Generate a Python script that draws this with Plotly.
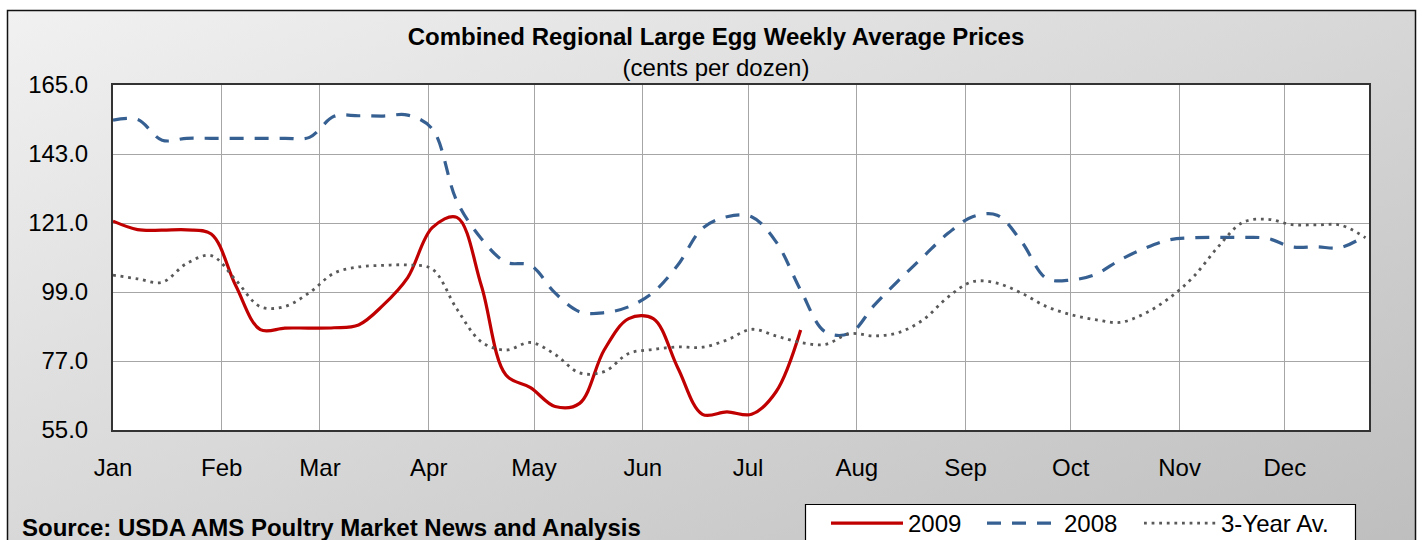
import base64
import pandas as pd
import plotly.graph_objects as go

# ---------------- data ----------------
weeks = pd.date_range("2009-01-01", periods=52, freq="7D")

prices_2009 = [121.6, 118.9, 118.7, 118.8, 117.5, 101.0, 87.0, 87.5, 87.5, 87.6,
               88.5, 94.8, 103.6, 119.5, 122.8, 101.0, 72.5, 68.5, 62.5, 63.5,
               80.5, 90.5, 90.5, 74.8, 60.0, 60.8, 60.0, 67.2, 86.9]

prices_2008 = [153.8, 154.0, 147.4, 148.0, 148.0, 148.0, 148.0, 148.0, 148.3, 155.0,
               155.2, 155.1, 155.4, 151.0, 128.0, 116.0, 108.5, 107.5, 98.7, 92.7,
               92.4, 94.3, 98.9, 107.6, 119.3, 123.0, 123.0, 115.0, 99.6, 86.3,
               85.8, 94.8, 102.8, 110.3, 117.7, 123.0, 123.5, 115.0, 103.4, 102.8,
               104.6, 109.2, 112.9, 115.6, 116.3, 116.4, 116.4, 116.1, 113.4, 113.4,
               113.2, 117.0]

prices_3yr = [104.4, 103.2, 102.1, 108.1, 110.6, 102.8, 94.3, 94.4, 98.8, 105.0,
              107.0, 107.5, 107.6, 106.3, 93.6, 83.1, 80.5, 82.9, 79.1, 73.2,
              73.6, 79.4, 80.7, 81.5, 81.4, 83.7, 87.1, 85.0, 82.9, 82.3,
              85.7, 85.0, 86.1, 90.2, 97.4, 102.3, 101.8, 98.6, 94.4, 91.8,
              90.2, 89.3, 92.1, 97.0, 103.9, 113.4, 121.2, 122.2, 120.5, 120.4,
              120.3, 116.3]

month_starts = pd.date_range("2009-01-01", periods=12, freq="MS")
month_labels = ["Jan", "Feb", "Mar", "Apr", "May", "Jun",
                "Jul", "Aug", "Sep", "Oct", "Nov", "Dec"]
y_ticks = [55, 77, 99, 121, 143, 165]

# ---------------- layout constants ----------------
W, H = 1422, 540
ML, MR, MT, MB = 113, 53, 85, 110
PW, PH = W - ML - MR, H - MT - MB
FONT = "Liberation Sans, Arial, sans-serif"
FS = 24


def px_x(px):
    return (px - ML) / PW


def px_y(py):
    return 1 - (py - MT) / PH


fig = go.Figure()
fig.add_trace(go.Scatter(x=weeks[:len(prices_2009)], y=prices_2009, name="2009",
                         legend="legend",
                         mode="lines", line=dict(color="#C00000", width=3.2, shape="spline")))
fig.add_trace(go.Scatter(x=weeks[:len(prices_2008)], y=prices_2008, name="2008",
                         legend="legend2",
                         mode="lines", line=dict(color="#376092", width=3.2, shape="spline",
                                                 dash="14px,11px")))
fig.add_trace(go.Scatter(x=weeks[:len(prices_3yr)], y=prices_3yr, name="3-Year Av.",
                         legend="legend3",
                         mode="lines", line=dict(color="#595959", width=2.8, shape="spline",
                                                 dash="2.8px,4.8px")))

# background gradient panel with border
svg = ('<svg xmlns="http://www.w3.org/2000/svg" width="1422" height="540" '
       'viewBox="0 0 1422 540" preserveAspectRatio="none">'
       '<defs><linearGradient id="g" x1="0" y1="0" x2="1" y2="1">'
       '<stop offset="0" stop-color="#f1f1f1"/><stop offset="1" stop-color="#bdbdbd"/>'
       '</linearGradient></defs>'
       '<rect x="7.5" y="10.5" width="1408" height="560" fill="url(#g)" '
       'stroke="#111" stroke-width="1.5"/></svg>')
src = "data:image/svg+xml;base64," + base64.b64encode(svg.encode()).decode()


def legend_at(px_left):
    return dict(orientation="h", x=px_x(px_left), y=px_y(501),
                xanchor="left", yanchor="top", bgcolor="rgba(0,0,0,0)",
                borderwidth=0, font=dict(family=FONT, size=FS, color="#000"),
                itemwidth=72)


fig.update_layout(
    width=W, height=H,
    margin=dict(l=ML, r=MR, t=MT, b=MB, pad=0, autoexpand=False),
    paper_bgcolor="white", plot_bgcolor="white",
    font=dict(family=FONT, size=FS, color="#000"),
    title=dict(text="<b>Combined Regional Large Egg Weekly Average Prices</b><br>"
                    "(cents per dozen)",
               x=716 / W, xref="container", xanchor="center",
               y=1 - 45 / H, yref="container", yanchor="middle",
               font=dict(family=FONT, size=FS, color="#000")),
    showlegend=True,
    legend=legend_at(826),
    legend2=legend_at(982),
    legend3=legend_at(1139),
    images=[dict(source=src, xref="paper", yref="paper",
                 x=-ML / PW, y=1 + MT / PH, sizex=W / PW, sizey=H / PH,
                 xanchor="left", yanchor="top", sizing="stretch", layer="below")],
    shapes=[dict(type="rect", xref="paper", yref="paper", x0=0, x1=1, y0=0, y1=1,
                 fillcolor="white", line=dict(width=0), layer="below"),
            dict(type="rect", xref="paper", yref="paper",
                 x0=px_x(805.5), x1=px_x(1355.5), y0=px_y(504.5), y1=px_y(560),
                 fillcolor="white", line=dict(color="#000", width=1.2), layer="above")],
    annotations=[dict(text="<b>Source: USDA AMS Poultry Market News and Analysis</b>",
                      xref="paper", yref="paper", x=px_x(20), y=px_y(527),
                      xanchor="left", yanchor="middle", showarrow=False,
                      font=dict(family=FONT, size=FS, color="#000"))],
)

fig.update_xaxes(range=["2009-01-01", "2009-12-25"], tickvals=month_starts, ticktext=month_labels,
                 showgrid=True, gridcolor="#a6a6a6", gridwidth=1,
                 showline=True, linecolor="#333", linewidth=2, mirror=True,
                 ticks="", ticklabelstandoff=15, zeroline=False)
fig.update_yaxes(range=[55, 165], tickvals=y_ticks, tickformat=".1f",
                 showgrid=True, gridcolor="#a6a6a6", gridwidth=1,
                 showline=True, linecolor="#333", linewidth=2, mirror=True,
                 ticks="", ticklabelstandoff=18, zeroline=False)

fig.write_html("out.html", config={"displayModeBar": False},
               post_script="document.body.style.margin='0';")
